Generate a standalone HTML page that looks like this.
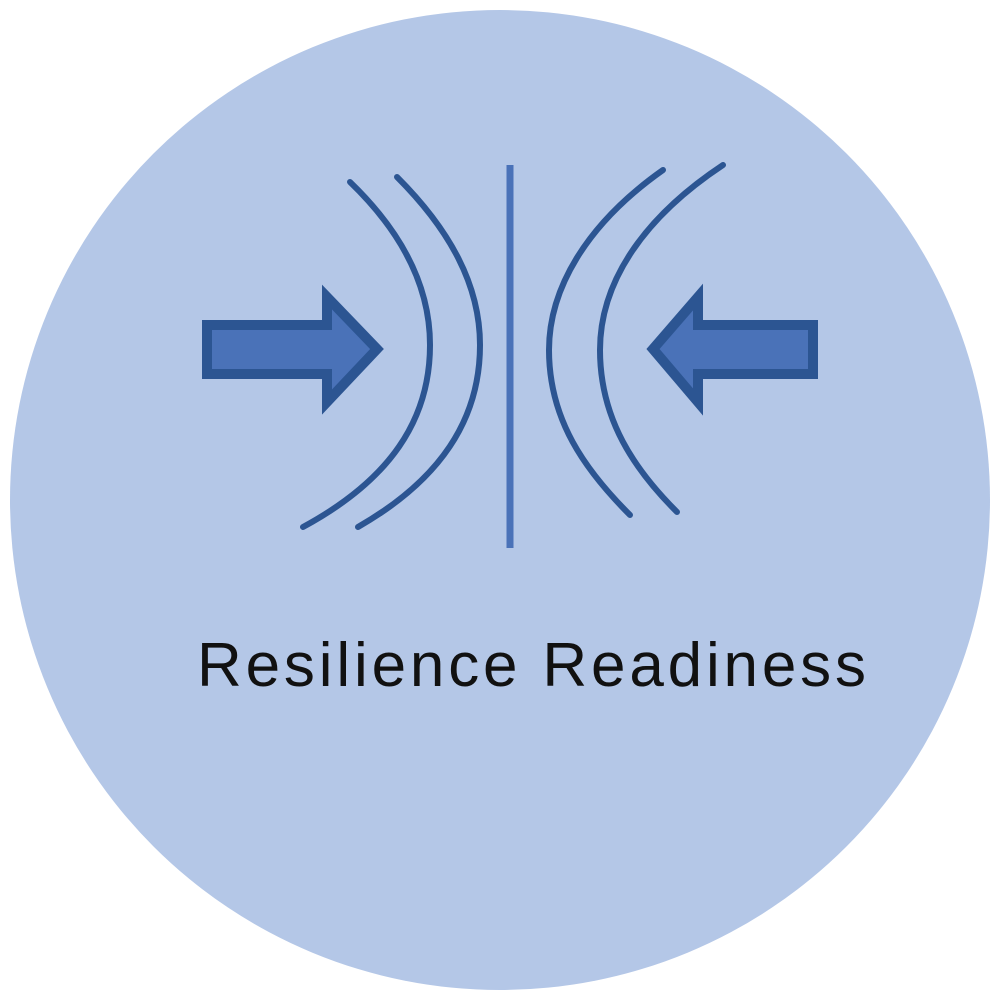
<!DOCTYPE html>
<html><head><style>html,body{margin:0;padding:0;background:#fff;width:1000px;height:1000px;overflow:hidden}</style></head>
<body>
<svg width="1000" height="1000" viewBox="0 0 1000 1000" xmlns="http://www.w3.org/2000/svg">
<circle cx="500" cy="500" r="490" fill="#b4c7e7"/>
<g fill="none" stroke="#2c5592" stroke-linecap="round" stroke-width="6">
<path d="M350,182 C405,235 430,290 430,345 C430,420 390,480 303,527"/>
<path d="M397,177 C450,230 480,285 480,345 C480,420 440,480 358,527"/>
<path d="M663,170 C585,225 549,290 549,350 C549,420 585,470 630,515"/>
<path d="M723,165 C640,220 600,285 600,350 C600,420 635,470 677,512"/>
</g>
<line x1="510" y1="165" x2="510" y2="548" stroke="#4a72b8" stroke-width="7"/>
<path d="M207,325 H327 V297 L377,349 L327,402 V374 H207 Z" fill="#4a72b8" stroke="#2c5592" stroke-width="10" stroke-linejoin="miter"/>
<path d="M813,325 H698 V297 L653,349 L698,402 V374 H813 Z" fill="#4a72b8" stroke="#2c5592" stroke-width="10" stroke-linejoin="miter"/>
<text x="197" y="686" font-family="Liberation Sans, sans-serif" font-size="62" fill="#111" textLength="669" lengthAdjust="spacing">Resilience Readiness</text>
</svg>
</body></html>
